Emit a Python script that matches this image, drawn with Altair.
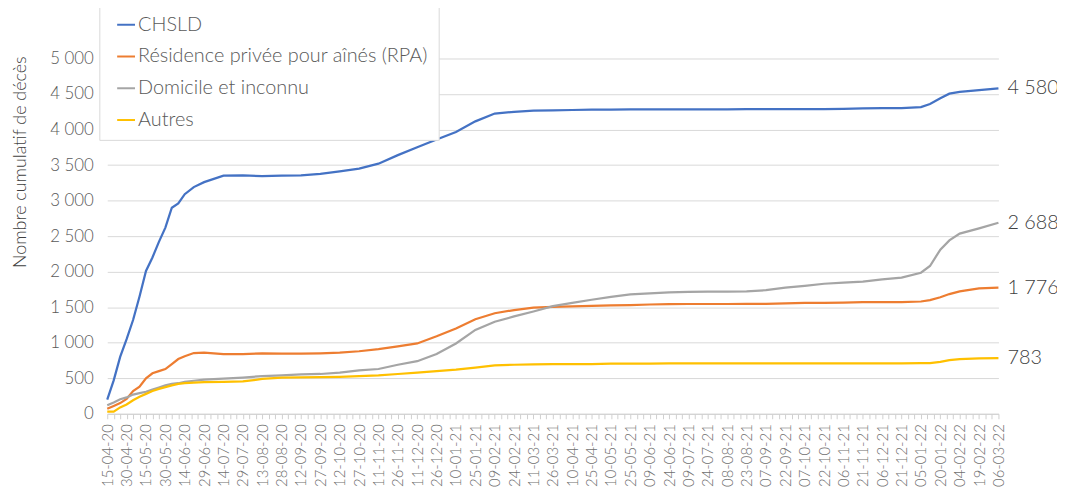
import altair as alt
import pandas as pd

dates = ["2020-04-15","2020-04-20","2020-04-25","2020-04-30","2020-05-05","2020-05-10","2020-05-15",
         "2020-05-20","2020-05-25","2020-05-30","2020-06-04","2020-06-09","2020-06-14","2020-06-21",
         "2020-06-29","2020-07-14","2020-07-29","2020-08-13","2020-08-28","2020-09-12","2020-09-27",
         "2020-10-12","2020-10-27","2020-11-11","2020-11-26","2020-12-11","2020-12-26","2021-01-10",
         "2021-01-25","2021-02-09","2021-02-24","2021-03-11","2021-03-26","2021-04-10","2021-04-25",
         "2021-05-10","2021-05-25","2021-06-09","2021-06-24","2021-07-09","2021-07-24","2021-08-08",
         "2021-08-23","2021-09-07","2021-09-22","2021-10-07","2021-10-22","2021-11-06","2021-11-21",
         "2021-12-06","2021-12-21","2022-01-05","2022-01-12","2022-01-20","2022-01-27","2022-02-04",
         "2022-02-19","2022-03-06"]

chsld = [200, 470, 800, 1050, 1320, 1650, 2010, 2200, 2420, 2620, 2900, 2960, 3090, 3190,
         3260, 3350, 3355, 3345, 3350, 3355, 3375, 3410, 3450, 3520, 3640, 3750, 3860, 3965,
         4115, 4225, 4250, 4265, 4270, 4275, 4280, 4282, 4284, 4285, 4285, 4285, 4285, 4285,
         4286, 4287, 4288, 4288, 4289, 4292, 4298, 4300, 4300, 4315, 4360, 4440, 4505, 4530,
         4555, 4580]

rpa = [70, 110, 150, 210, 320, 380, 500, 570, 600, 630, 700, 770, 810, 855,
       860, 840, 840, 850, 845, 845, 850, 860, 880, 910, 950, 990, 1090, 1200,
       1330, 1415, 1460, 1495, 1505, 1512, 1520, 1525, 1530, 1538, 1542, 1545, 1545, 1545,
       1546, 1548, 1555, 1560, 1560, 1565, 1570, 1570, 1572, 1580, 1600, 1640, 1685, 1722,
       1765, 1776]

domicile = [120, 160, 205, 230, 270, 290, 310, 340, 370, 400, 420, 430, 450, 465,
            480, 495, 510, 530, 540, 555, 560, 580, 610, 630, 690, 740, 840, 990,
            1180, 1295, 1370, 1440, 1515, 1560, 1605, 1645, 1680, 1695, 1710, 1715, 1718, 1720,
            1722, 1740, 1775, 1800, 1830, 1845, 1860, 1890, 1915, 1985, 2080, 2310, 2440, 2535,
            2610, 2688]

autres = [30, 30, 90, 130, 190, 240, 280, 320, 350, 375, 400, 420, 430, 440,
          445, 450, 455, 490, 510, 512, 515, 520, 530, 540, 560, 580, 600, 620,
          650, 680, 690, 695, 698, 700, 700, 705, 706, 707, 708, 708, 708, 708,
          709, 709, 710, 710, 710, 710, 710, 711, 711, 712, 714, 730, 755, 770,
          780, 783]

series_names = ["CHSLD", "Résidence privée pour aînés (RPA)", "Domicile et inconnu", "Autres"]
series_colors = ["#4472C4", "#ED7D31", "#A5A5A5", "#FFC000"]
series_values = [chsld, rpa, domicile, autres]

rows = []
for name, vals in zip(series_names, series_values):
    for d, v in zip(dates, vals):
        rows.append({"date": d, "serie": name, "valeur": v})
df = pd.DataFrame(rows)

last = pd.DataFrame({
    "date": [dates[-1]] * 4,
    "valeur": [v[-1] for v in series_values],
    "label": [f"{v[-1]:,}".replace(",", " ") for v in series_values],
})

tick_dates = pd.date_range("2020-04-15", "2022-03-06", freq="5D")
tick_ms = [int(t.value // 1_000_000) for t in tick_dates]
start_ms = tick_ms[0]
end_ms = int(pd.Timestamp("2022-03-06").value // 1_000_000)

font = "Lato"
light = 300

x_enc = alt.X(
    "date:T",
    scale=alt.Scale(type="utc", domain=[start_ms, end_ms], nice=False),
    axis=alt.Axis(
        values=tick_ms,
        tickCount=500,
        labelExpr=f"(round((datum.value - {start_ms}) / 432000000) % 3 == 0) ? utcFormat(datum.value, '%d-%m-%y') : ''",
        labelAngle=-90,
        labelOverlap=False,
        labelFontSize=15,
        labelFontWeight=light,
        labelColor="#6f6f6f",
        labelFont=font,
        labelPadding=5,
        tickColor="#d0d0d0",
        tickSize=5,
        domainColor="#d0d0d0",
        grid=False,
        title=None,
    ),
)

y_enc = alt.Y(
    "valeur:Q",
    scale=alt.Scale(domain=[0, 5000], nice=False),
    axis=alt.Axis(
        values=list(range(0, 5001, 500)),
        tickCount=50,
        labelOverlap=False,
        labelExpr="replace(format(datum.value, ','), ',', ' ')",
        labelFontSize=17,
        labelFontWeight=light,
        labelColor="#595959",
        labelFont=font,
        labelPadding=14,
        ticks=False,
        domain=False,
        gridColor="#d9d9d9",
        gridWidth=1,
        title="Nombre cumulatif de décès",
        titleFontSize=18,
        titleFontWeight=light,
        titleColor="#404040",
        titleFont=font,
        titleX=-87,
        titleY=104,
        titleAlign="center",
        titleBaseline="middle",
        titleAngle=270,
    ),
)

lines = alt.Chart(df).mark_line(strokeWidth=2.25).encode(
    x=x_enc,
    y=y_enc,
    color=alt.Color(
        "serie:N",
        scale=alt.Scale(domain=series_names, range=series_colors),
        sort=series_names,
        legend=alt.Legend(
            title=None,
            orient="none",
            legendX=-8,
            legendY=-54,
            fillColor="white",
            strokeColor="#d9d9d9",
            padding=10,
            rowPadding=12,
            symbolType="stroke",
            symbolSize=324,
            symbolStrokeWidth=2,
            symbolOffset=7,
            labelOffset=2,
            labelFontSize=20,
            labelFontWeight=light,
            labelFont=font,
            labelColor="#595959",
            labelLimit=400,
        ),
    ),
    order=alt.Order("date:T"),
)

labels = alt.Chart(last).mark_text(
    align="left", baseline="middle", dx=9, fontSize=20, fontWeight=light, font=font, color="#404040"
).encode(
    x=alt.X("date:T"),
    y=alt.Y("valeur:Q"),
    text="label:N",
)

chart = alt.layer(lines, labels).properties(
    width=898,
    height=358,
    autosize=alt.AutoSizeParams(type="none"),
    padding={"left": 100, "top": 49, "right": 59, "bottom": 85},
    background="white",
).configure_view(stroke=None)

chart.save("out.html", embed_options={"renderer": "svg", "actions": False})
